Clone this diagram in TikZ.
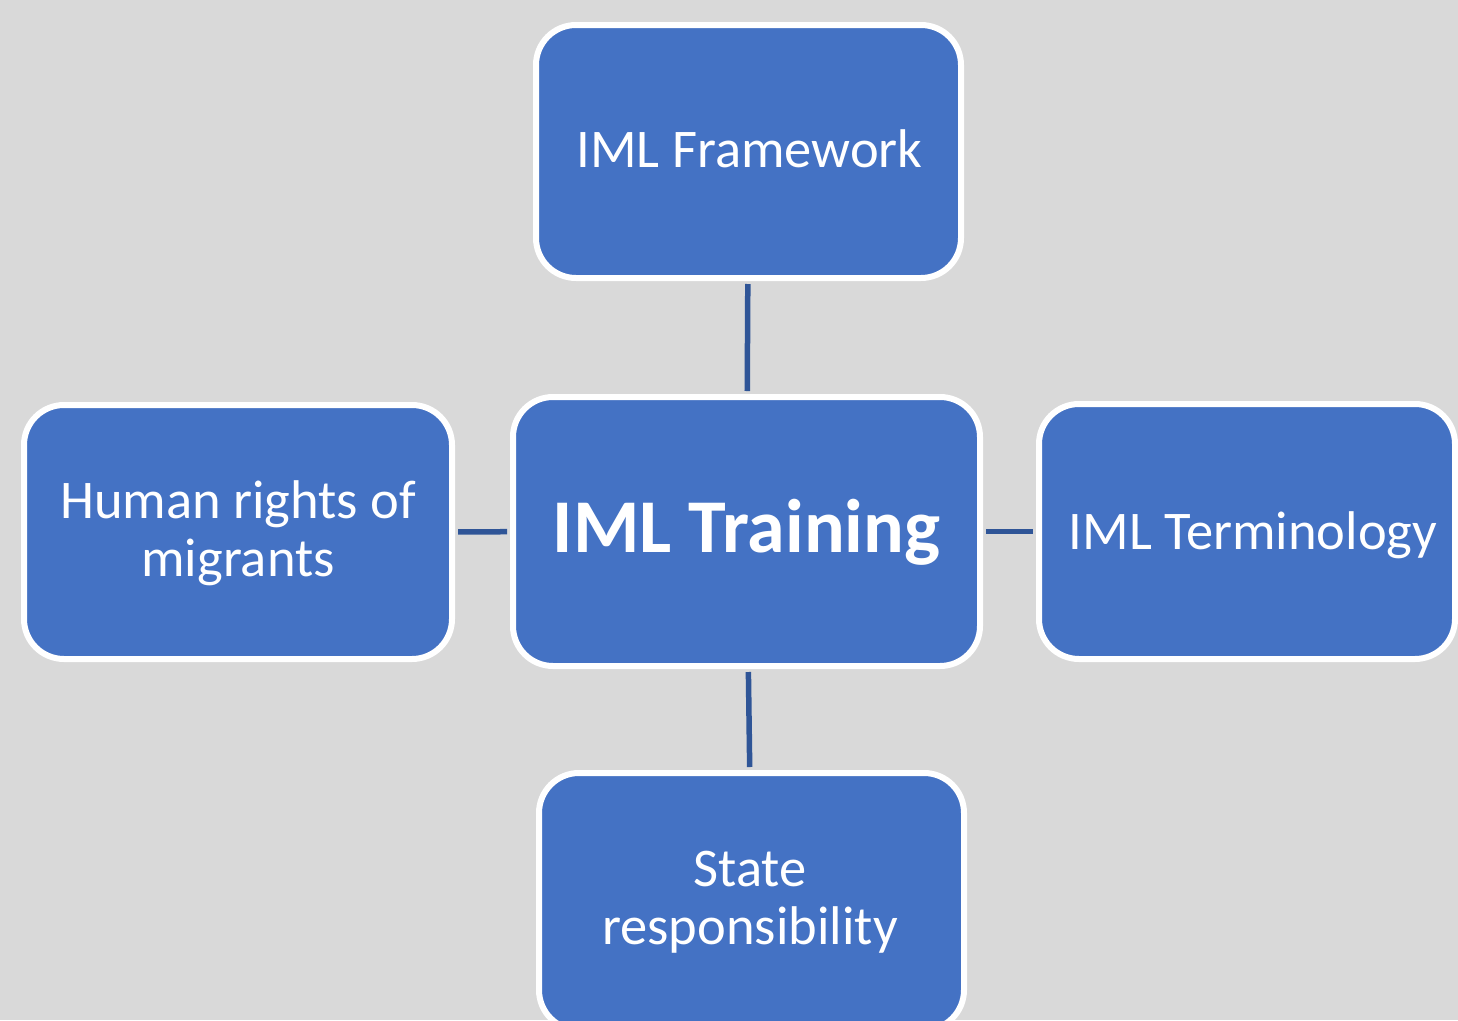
\documentclass[tikz,border=0pt]{standalone}
\usepackage{fontspec}
\setmainfont{Carlito}
\definecolor{bgc}{HTML}{D9D9D9}
\definecolor{boxc}{HTML}{4472C4}
\definecolor{linec}{HTML}{2F5597}
\begin{document}
\begin{tikzpicture}[x=1pt,y=-1pt,
  box/.style={draw=white,fill=boxc,line width=6pt,rounded corners=40pt,inner sep=0pt},
  conn/.style={draw=linec,line width=5.5pt,shorten <=3pt,shorten >=3pt},
  txt/.style={text=white,inner sep=0pt,anchor=base,font=\fontsize{54.5}{58}\selectfont},
  bigtxt/.style={text=white,inner sep=0pt,anchor=base,font=\fontsize{76}{84}\selectfont\bfseries}]
\useasboundingbox (0,0) rectangle (1458,1020);
\clip (0,0) rectangle (1458,1020);
\fill[bgc] (0,0) rectangle (1458,1020);
% boxes
\node[box,minimum width=425pt,minimum height=253pt] (top) at (748.5,151.5) {};
\node[box,minimum width=467pt,minimum height=269pt] (center) at (746.5,531.5) {};
\node[box,minimum width=428pt,minimum height=254pt] (left) at (238,532) {};
\node[box,minimum width=416pt,minimum height=255pt] (right) at (1247,531.5) {};
\node[box,minimum width=425pt,minimum height=257pt] (bottom) at (751.5,901.5) {};
% connectors
\draw[conn] (top) -- (center);
\draw[conn] (center) -- (bottom);
\draw[conn] (left) -- (center);
\draw[conn] (center) -- (right);
% texts
\node[txt] (ttop) at (749.5,167) {IML Framework};
\node[bigtxt] (tcenter) at (746.5,552) {IML Training};
\node[txt] (tleft1) at (238,518) {Human rights of};
\node[txt] (tleft2) at (238,576) {migrants};
\node[txt] (tright) at (1253,549) {IML Terminology};
\node[txt] (tbot1) at (750,886) {State};
\node[txt] (tbot2) at (750,944) {responsibility};
\end{tikzpicture}
\end{document}
